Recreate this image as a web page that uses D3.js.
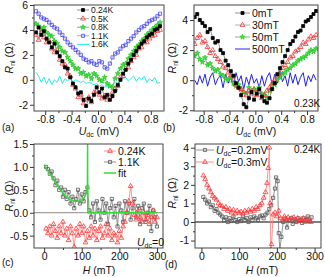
<!DOCTYPE html>
<html>
<head>
<meta charset="utf-8">
<script src="https://cdn.jsdelivr.net/npm/d3@7"></script>
<style>
body { margin: 0; background: #fff; }
text { font-family: "Liberation Sans", Arial, sans-serif; }
</style>
</head>
<body>
<div id="chart"></div>
<script>
// bias voltage grid for panels (a) and (b), mV
var udc = [-0.94,-0.90,-0.86,-0.82,-0.78,-0.74,-0.70,-0.66,-0.62,-0.58,-0.54,-0.50,-0.46,-0.42,-0.38,-0.34,
  -0.30,-0.26,-0.22,-0.18,-0.14,-0.10,-0.06,-0.02,0.02,0.06,0.10,0.14,0.18,0.22,0.26,0.30,
  0.34,0.38,0.42,0.46,0.50,0.54,0.58,0.62,0.66,0.70,0.74,0.78,0.82,0.86,0.90,0.94];

// panel (a): temperatures
var aT024 = [3.8,4.2,3.6,3.9,3.3,3.0,2.6,2.9,2.2,1.9,1.5,1.0,0.9,0.2,-0.3,-0.6,-1.1,-1.0,-1.6,-2.1,-1.5,-1.7,-1.2,-0.6,
  -1.0,-0.7,-1.4,-1.2,-1.6,-1.3,-0.9,-0.4,0.0,0.5,0.8,1.3,1.6,2.0,2.3,2.6,2.9,3.1,3.4,3.6,3.7,4.0,4.1,4.3];
var aT05 = [3.6,3.2,3.8,3.4,3.0,3.1,2.5,2.2,2.4,1.6,1.3,1.2,0.5,0.3,-0.4,-0.7,-1.4,-1.2,-1.9,-1.6,-1.4,-1.8,-1.0,-0.9,
  -1.2,-1.5,-1.3,-1.6,-1.4,-1.0,-0.7,-0.5,0.2,0.3,0.9,1.0,1.5,1.8,2.0,2.5,2.6,3.0,3.0,3.3,3.5,3.6,3.9,4.0];
var aT08 = [4.5,4.3,4.0,4.2,3.8,3.6,3.5,3.1,2.9,2.6,2.3,2.2,1.8,1.5,1.2,0.9,0.9,0.5,0.6,0.3,0.4,0.1,0.5,0.3,
  0.0,-0.1,0.2,-0.3,-0.5,-0.6,0.1,0.5,0.9,1.2,1.3,1.7,2.0,2.3,2.6,2.8,3.1,3.3,3.6,3.8,4.0,4.2,4.4,4.6];
var aT11 = [5.5,5.3,5.0,4.9,4.8,4.6,4.4,4.2,4.1,3.8,3.6,3.3,3.0,2.8,2.6,2.4,2.2,2.0,1.7,1.6,1.4,1.5,1.3,1.2,
  1.5,1.4,1.0,0.9,1.3,1.8,2.1,2.2,2.5,2.7,2.8,3.1,3.3,3.5,3.8,4.0,4.2,4.3,4.5,4.7,4.8,4.9,5.1,5.3];
var aT16 = [0.6,0.3,-0.2,0.2,-0.3,0.1,-0.4,0.0,-0.2,0.3,-0.3,0.1,-0.1,0.2,-0.2,0.0,-0.1,-0.2,-0.1,-0.3,-0.2,-0.3,-0.4,-0.3,
  -0.5,-0.4,-0.6,-0.5,-0.6,-0.4,-0.2,-0.3,0.0,0.1,0.2,-0.1,0.1,0.3,-0.1,0.2,0.0,0.3,-0.2,0.1,-0.1,0.2,-0.3,-0.2];

// panel (b): magnetic fields at 0.23K
var bH0 = [4.2,4.4,4.0,3.8,3.6,3.2,3.4,2.8,2.5,2.6,2.0,1.8,1.3,1.0,0.6,0.3,-0.2,-0.5,-1.0,-1.6,-1.8,-1.2,-0.8,-1.3,
  -0.9,-0.6,-1.1,-1.4,-1.5,-1.2,-0.6,-0.2,0.4,0.8,1.2,1.6,2.0,2.4,2.6,2.9,3.2,3.3,3.6,3.9,4.0,4.2,4.4,4.6];
var bH30 = [2.4,2.8,3.0,2.5,2.6,2.2,1.8,2.0,1.6,1.4,1.2,0.9,0.8,0.5,0.3,0.0,-0.3,-0.5,-0.6,-0.8,-1.0,-0.7,-0.9,-0.6,
  -1.0,-0.8,-1.2,-1.0,-0.7,-0.5,-0.2,0.0,0.3,0.5,0.8,1.0,1.2,1.5,1.6,1.9,2.0,2.2,2.5,2.4,2.7,2.9,2.8,3.0];
var bH50 = [1.6,1.8,1.4,1.2,1.5,1.0,1.1,0.8,0.6,0.7,0.4,0.3,0.1,0.0,0.2,-0.2,-0.4,-0.3,-0.6,-0.8,-0.9,-0.5,-0.7,-0.6,
  -0.8,-0.5,-0.9,-1.0,-1.2,-0.7,-0.4,-0.3,0.0,0.2,0.4,0.5,0.7,0.8,1.0,1.1,1.3,1.4,1.5,1.6,1.8,2.0,1.9,2.1];
var bH500 = [0.0,-0.3,0.3,-0.2,0.4,-0.4,0.2,0.5,-0.3,0.1,0.3,-0.5,0.4,-0.2,0.2,-0.4,0.5,-0.1,0.3,-0.6,0.2,-0.3,0.4,-0.2,
  0.1,-0.5,0.3,-0.4,0.2,0.5,-0.3,0.4,-0.2,0.6,-0.1,0.3,-0.4,0.5,-0.2,0.4,-0.3,0.2,0.5,-0.4,0.3,-0.1,0.4,0.0];

// panel (c): field sweeps at Udc = 0
var cH = [5,10,15,20,25,30,35,40,45,50,55,60,65,70,75,80,85,90,95,100,105,110,115,120,125,130,135,140,145,150,
  155,160,165,170,175,180,185,190,195,200,205,210,215,220,225,230,235,240,245,250,255,260,265,270,275,280,285,290,295,300];
var cT024 = [-0.35,-0.45,-0.3,-0.5,-0.25,-0.4,-0.55,-0.3,-0.45,-0.2,-0.5,-0.35,-0.6,-0.3,-0.45,-0.75,-0.35,-0.5,-0.25,-0.45,
  -0.3,-0.65,-0.4,-0.55,-0.3,-0.5,-0.35,-0.6,-0.4,-0.3,-0.55,-0.45,-0.25,-0.5,-0.35,-0.6,-0.45,-0.5,-0.65,-0.4,
  -0.55,-0.3,-0.2,0.0,0.25,0.58,0.2,-0.05,-0.15,0.05,-0.1,-0.2,0.0,-0.15,-0.05,-0.25,-0.1,0.05,-0.2,-0.1];
var cT11 = [1.0,0.95,0.85,0.9,0.75,0.6,0.7,0.5,0.55,0.35,0.5,0.3,0.45,0.2,0.35,0.1,0.3,0.5,0.2,0.4,
  0.25,0.45,0.55,0.05,-0.1,0.2,-0.2,0.25,0.05,-0.15,0.3,0.0,0.2,-0.25,0.1,0.3,-0.1,0.15,-0.3,0.2,
  0.05,-0.2,0.25,0.0,0.2,-0.15,0.1,0.3,-0.1,0.15,-0.25,0.1,0.2,-0.2,0.0,0.15,-0.4,0.05,-0.1,-0.3];
var fitH = [0,10,20,30,40,50,60,70,80,90,100,105,110,113,115,115.5,116,300];
var fitR = [1.05,0.92,0.79,0.66,0.54,0.43,0.34,0.28,0.25,0.25,0.28,0.32,0.38,0.46,0.6,1.6,0,0];

// panel (d): field sweeps at 0.24K
var dH02 = [5,10,15,20,25,30,35,40,45,50,55,60,65,70,75,80,85,90,95,100,105,110,115,120,125,130,135,140,145,150,
  155,160,165,170,175,180,185,190,195,198,202,205,208,212,217,222,227,232,237,242,247,252,257,262,267,272,277,282,287,292];
var dR02 = [1.35,1.2,1.0,1.1,0.8,0.9,0.6,0.7,0.5,0.4,0.3,0.1,0.25,0.0,0.2,0.05,0.3,0.1,0.0,0.15,
  0.05,0.3,0.1,0.2,0.0,0.25,0.1,0.3,0.2,0.1,0.3,0.35,0.2,0.4,0.5,0.7,0.9,1.3,1.8,2.4,
  2.2,-0.6,-1.5,-0.8,0.0,0.2,-0.3,0.1,0.2,-0.1,0.15,0.0,0.2,0.1,-0.05,0.2,0.1,0.3,0.05,0.25];
var dH03 = [5,10,15,20,25,30,35,40,45,50,55,60,65,70,75,80,85,90,95,100,105,110,115,120,125,130,135,140,145,150,
  155,160,165,170,174,177,180,182,184,186,190,195,200,205,210,215,220,225,230,235,240,245,250,255,260,265,270,275,280,285,290];
var dR03 = [2.5,2.3,2.0,1.8,1.6,1.4,1.3,1.2,1.0,0.9,0.85,0.7,0.8,0.6,0.7,0.5,0.65,0.45,0.6,0.5,
  0.55,0.45,0.6,0.5,0.65,0.55,0.7,0.6,0.8,0.7,0.9,1.0,1.3,1.6,2.1,2.9,4.0,1.0,-1.5,-1.2,
  0.4,0.5,0.3,0.6,0.2,0.1,0.3,0.15,0.25,0.1,0.2,0.25,0.1,0.2,0.05,0.15,0.2,0.0,0.1,0.15,0.0];

var width = 325, height = 277;
var svg = d3.select("#chart").append("svg")
  .attr("width", width).attr("height", height)
  .style("background", "#fff");

var clipN = 0;
function panel(o) {
  var g = svg.append("g");
  var x = d3.scaleLinear().domain(o.xd).range([o.l, o.r]);
  var y = d3.scaleLinear().domain(o.yd).range([o.b, o.t]);
  var id = "clip" + (clipN++);
  svg.append("clipPath").attr("id", id).append("rect")
    .attr("x", o.l).attr("y", o.t).attr("width", o.r - o.l).attr("height", o.b - o.t);

  // minor ticks
  g.append("g").attr("transform", "translate(0," + o.b + ")")
    .call(d3.axisBottom(x).tickValues(o.xminor).tickSize(2).tickFormat(""));
  g.append("g").attr("transform", "translate(" + o.l + ",0)")
    .call(d3.axisLeft(y).tickValues(o.yminor).tickSize(2).tickFormat(""));
  // major ticks
  g.append("g").attr("transform", "translate(0," + o.b + ")")
    .call(d3.axisBottom(x).tickValues(o.xticks).tickSize(4).tickPadding(1)
      .tickFormat(function(d) { return d3.format(o.xf)(d).replace("\u2212", "-"); }));
  g.append("g").attr("transform", "translate(" + o.l + ",0)")
    .call(d3.axisLeft(y).tickValues(o.yticks).tickSize(4).tickPadding(2)
      .tickFormat(function(d) { return d3.format(o.yf)(d).replace("\u2212", "-"); }));
  g.selectAll(".domain").remove();
  g.selectAll(".tick line").attr("stroke", "#333");
  g.selectAll(".tick text").style("font-size", "10.5px").attr("fill", "#111")
    .style("font-family", "'Liberation Sans', Arial, sans-serif");

  var plot = g.append("g").attr("clip-path", "url(#" + id + ")");
  if (o.zero) {
    plot.append("line").attr("x1", o.l).attr("x2", o.r)
      .attr("y1", y(0)).attr("y2", y(0))
      .attr("stroke", o.zero).attr("stroke-width", 1);
  }
  g.append("rect").attr("x", o.l).attr("y", o.t)
    .attr("width", o.r - o.l).attr("height", o.b - o.t)
    .attr("fill", "none").attr("stroke", "#444").attr("stroke-width", 1);
  return { g: g, x: x, y: y, plot: plot };
}

var shapes = {
  square: d3.symbolSquare,
  triangle: d3.symbolTriangle,
  star: d3.symbolStar
};

function series(p, xs, ys, s) {
  var pts = xs.map(function(d, i) { return [d, ys[i]]; });
  var line = d3.line().x(function(d) { return p.x(d[0]); }).y(function(d) { return p.y(d[1]); });
  p.plot.append("path").datum(pts).attr("d", line)
    .attr("fill", "none").attr("stroke", s.line).attr("stroke-width", s.lw || 0.8);
  if (s.shape) {
    p.plot.selectAll(null).data(pts).enter().append("path")
      .attr("d", d3.symbol().type(shapes[s.shape]).size(s.size || 10))
      .attr("transform", function(d) { return "translate(" + p.x(d[0]) + "," + p.y(d[1]) + ")"; })
      .attr("fill", s.fill).attr("stroke", s.stroke).attr("stroke-width", 0.8);
  }
}

function legend(p, items, x0, y0, dy, w, fs) {
  items.forEach(function(it, i) {
    var yy = y0 + i * dy;
    p.g.append("line").attr("x1", x0).attr("x2", x0 + w).attr("y1", yy).attr("y2", yy)
      .attr("stroke", it.s.line).attr("stroke-width", it.s.lw || 0.8);
    if (it.s.shape) {
      p.g.append("path").attr("d", d3.symbol().type(shapes[it.s.shape]).size(it.s.size || 10))
        .attr("transform", "translate(" + (x0 + w / 2) + "," + yy + ")")
        .attr("fill", it.s.fill).attr("stroke", it.s.stroke).attr("stroke-width", 0.8);
    }
    var t = p.g.append("text").attr("x", x0 + w + 2).attr("y", yy + fs * 0.36)
      .style("font-size", fs + "px").attr("fill", "#111");
    it.label(t);
  });
}

function plain(str) { return function(t) { t.text(str); }; }
function uLabel(val) {
  return function(t) {
    t.append("tspan").style("font-style", "italic").text("U");
    t.append("tspan").attr("dy", 2).style("font-size", "7px").text("dc");
    t.append("tspan").attr("dy", -2).text(val);
  };
}

function yLabel(p, x, yc) {
  var t = p.g.append("text").attr("transform", "translate(" + x + "," + yc + ") rotate(-90)")
    .attr("text-anchor", "middle").style("font-size", "10.5px").attr("fill", "#111");
  t.append("tspan").style("font-style", "italic").text("R");
  t.append("tspan").attr("dy", 2).style("font-size", "7px").text("nl");
  t.append("tspan").attr("dy", -2).text(" (\u03A9)");
}
function xLabelU(p, xc, y) {
  var t = p.g.append("text").attr("x", xc).attr("y", y).attr("text-anchor", "middle")
    .style("font-size", "10.5px").attr("fill", "#111");
  uLabel(" (mV)")(t);
}
function xLabelH(p, xc, y) {
  var t = p.g.append("text").attr("x", xc).attr("y", y).attr("text-anchor", "middle")
    .style("font-size", "10.5px").attr("fill", "#111");
  t.append("tspan").style("font-style", "italic").text("H");
  t.append("tspan").text(" (mT)");
}
function tag(p, x, y, str) {
  p.g.append("text").attr("x", x).attr("y", y).style("font-size", "10px").attr("fill", "#111").text(str);
}

var S = {
  black: { line: "#777", shape: "square", fill: "#000", stroke: "#000", size: 9 },
  red: { line: "#999", shape: "triangle", fill: "none", stroke: "#f33", size: 10 },
  green: { line: "#888", shape: "star", fill: "#5d5", stroke: "#2c2", size: 8 },
  blue: { line: "#999", shape: "square", fill: "none", stroke: "#44f", size: 10 },
  cyan: { line: "#2ee", lw: 1 },
  navy: { line: "#22e", lw: 1 },
  gray: { line: "#777", shape: "square", fill: "none", stroke: "#555", size: 10 },
  pink: { line: "#f77", shape: "triangle", fill: "none", stroke: "#f33", size: 10 },
  fit: { line: "#3d3", lw: 1.5 }
};

// (a)
var pa = panel({ l: 34, r: 164, t: 5, b: 111, xd: [-0.97, 1.0], yd: [-2.5, 6],
  xticks: [-0.8, -0.4, 0, 0.4, 0.8], xminor: [-0.6, -0.2, 0.2, 0.6], xf: ".1f",
  yticks: [-2, 0, 2, 4, 6], yminor: [-1, 1, 3, 5], yf: "d" });
series(pa, udc, aT16, S.cyan);
series(pa, udc, aT11, S.blue);
series(pa, udc, aT08, S.green);
series(pa, udc, aT05, S.red);
series(pa, udc, aT024, S.black);
legend(pa, [
  { s: S.black, label: plain("0.24K") },
  { s: S.red, label: plain("0.5K") },
  { s: S.green, label: plain("0.8K") },
  { s: S.blue, label: plain("1.1K") },
  { s: S.cyan, label: plain("1.6K") }
], 77, 10, 8.6, 12, 8.5);
yLabel(pa, 13, 58);
xLabelU(pa, 99, 135);
tag(pa, 2, 131, "(a)");

// (b)
var pb = panel({ l: 194, r: 318, t: 5, b: 111, xd: [-0.95, 0.97], yd: [-2.05, 5],
  xticks: [-0.8, -0.4, 0, 0.4, 0.8], xminor: [-0.6, -0.2, 0.2, 0.6], xf: ".1f",
  yticks: [-2, 0, 2, 4], yminor: [-1, 1, 3], yf: "d" });
series(pb, udc, bH500, S.navy);
series(pb, udc, bH50, S.green);
series(pb, udc, bH30, S.red);
series(pb, udc, bH0, S.black);
legend(pb, [
  { s: S.black, label: plain("0mT") },
  { s: S.red, label: plain("30mT") },
  { s: S.green, label: plain("50mT") },
  { s: S.navy, label: plain("500mT") }
], 235, 13, 12, 15, 10.5);
tag(pb, 294, 107, "0.23K");
yLabel(pb, 176, 58);
xLabelU(pb, 256, 135);
tag(pb, 163, 131, "(b)");

// (c)
var pc = panel({ l: 34, r: 163, t: 144, b: 248, xd: [-27, 316], yd: [-0.77, 1.5],
  xticks: [0, 100, 200, 300], xminor: [50, 150, 250], xf: "d",
  yticks: [-0.5, 0, 0.5, 1.0, 1.5], yminor: [-0.25, 0.25, 0.75, 1.25], yf: ".1f", zero: "#888" });
series(pc, cH, cT11, S.gray);
series(pc, cH, cT024, S.pink);
series(pc, fitH, fitR, S.fit);
legend(pc, [
  { s: S.pink, label: plain("0.24K") },
  { s: S.gray, label: plain("1.1K") },
  { s: S.fit, label: plain("fit") }
], 104, 151, 11, 12, 10.5);
(function() {
  var t = pc.g.append("text").attr("x", 137).attr("y", 246).style("font-size", "10.5px").attr("fill", "#111");
  uLabel("=0")(t);
})();
yLabel(pc, 13, 196);
xLabelH(pc, 99, 274);
tag(pc, 2, 266, "(c)");

// (d)
var pd = panel({ l: 195, r: 321, t: 144, b: 248, xd: [-17, 317], yd: [-1.4, 4.2],
  xticks: [0, 100, 200, 300], xminor: [50, 150, 250], xf: "d",
  yticks: [-1, 0, 1, 2, 3, 4], yminor: [-0.5, 0.5, 1.5, 2.5, 3.5], yf: "d", zero: "#000" });
series(pd, dH02, dR02, S.gray);
series(pd, dH03, dR03, S.pink);
legend(pd, [
  { s: S.gray, label: uLabel("=0.2mV") },
  { s: S.pink, label: uLabel("=0.3mV") }
], 196, 150, 12, 18, 10.5);
tag(pd, 294, 153, "0.24K");
yLabel(pd, 176, 193);
xLabelH(pd, 262, 274);
tag(pd, 165, 268, "(d)");
</script>
</body>
</html>
